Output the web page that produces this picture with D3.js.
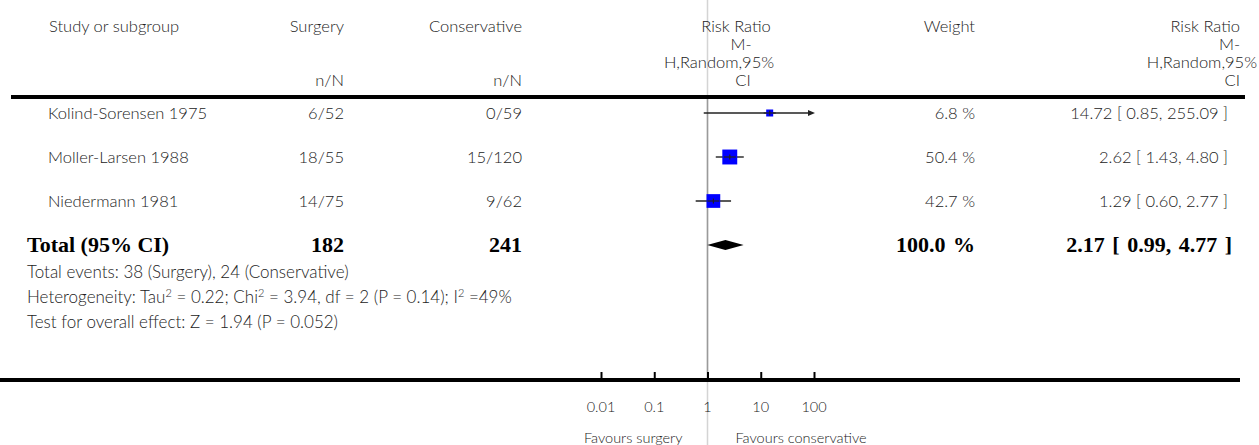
<!DOCTYPE html>
<html>
<head>
<meta charset="utf-8">
<script src="https://cdn.jsdelivr.net/npm/d3@7"></script>
<style>
  html, body { margin: 0; padding: 0; background: #fff; }
  svg { display: block; }
  .t { font-family: Lato, "Open Sans", sans-serif; font-weight: 300; font-size: 16.5px; fill: #222; }
  .b { font-family: "Liberation Serif", "Times New Roman", serif; font-weight: bold; font-size: 22px; fill: #000; }
  .bn { word-spacing: 2px; }
  .s { font-family: Lato, "Open Sans", sans-serif; font-weight: 300; font-size: 17px; fill: #222; }
  .ax { font-family: Lato, "Open Sans", sans-serif; font-weight: 300; font-size: 14.5px; fill: #222; }
</style>
</head>
<body>
<svg id="plot" width="1259" height="445"></svg>
<script>
// Trials in the meta-analysis
const studies = ["Kolind-Sorensen 1975", "Moller-Larsen 1988", "Niedermann 1981"];
const surgeryEvents = [6, 18, 14];
const surgeryTotals = [52, 55, 75];
const conservativeEvents = [0, 15, 9];
const conservativeTotals = [59, 120, 62];
const weights = [6.8, 50.4, 42.7];
const riskRatios = [14.72, 2.62, 1.29];
const ciLower = [0.85, 1.43, 0.60];
const ciUpper = [255.09, 4.80, 2.77];

// Pooled (random effects) result
const pooledRR = 2.17;
const pooledLower = 0.99;
const pooledUpper = 4.77;
const pooledWeight = 100.0;

// Axis
const tickValues = [0.01, 0.1, 1, 10, 100];
const tickLabels = ["0.01", "0.1", "1", "10", "100"];

// Footer text
const footerLines = [
  [{t: "Total events: 38 (Surgery), 24 (Conservative)"}],
  [{t: "Heterogeneity: Tau"}, {t: "2", sup: true}, {t: " = 0.22; Chi"}, {t: "2", sup: true},
   {t: " = 3.94, df = 2 (P = 0.14); I"}, {t: "2", sup: true}, {t: " =49%"}],
  [{t: "Test for overall effect: Z = 1.94 (P = 0.052)"}]
];

const svg = d3.select("#plot");

const x = d3.scaleLog().domain([0.01, 100]).range([601, 814]);
const rowY = d3.scalePoint().domain(d3.range(studies.length + 1)).range([113, 245]);
const boxSize = d3.scaleSqrt().domain([0, 100]).range([0, 21]);

const sumSurgeryTotal = d3.sum(surgeryTotals);
const sumConsTotal = d3.sum(conservativeTotals);

// Null line at RR = 1
const x1 = x(1);
svg.append("line").attr("x1", x1).attr("x2", x1).attr("y1", 0).attr("y2", 445)
  .attr("stroke", "#d4d4d4").attr("stroke-width", 1.5);
svg.append("line").attr("x1", x1).attr("x2", x1).attr("y1", 97).attr("y2", 380)
  .attr("stroke", "#9a9a9a").attr("stroke-width", 1.5);

// Column headers
const hdr = svg.append("g").attr("class", "t");
hdr.append("text").attr("x", 49).attr("y", 32).text("Study or subgroup");
hdr.append("text").attr("x", 344).attr("y", 32).attr("text-anchor", "end").text("Surgery");
hdr.append("text").attr("x", 344).attr("y", 86).attr("text-anchor", "end").text("n/N");
hdr.append("text").attr("x", 522).attr("y", 32).attr("text-anchor", "end").text("Conservative");
hdr.append("text").attr("x", 522).attr("y", 86).attr("text-anchor", "end").text("n/N");
hdr.append("text").attr("x", 975).attr("y", 32).attr("text-anchor", "end").text("Weight");

const midHeader = [["Risk Ratio", 736], ["M-", 741], ["H,Random,95%", 719], ["CI", 743]];
midHeader.forEach(([s, cx], i) => {
  hdr.append("text").attr("x", cx).attr("y", 32 + i * 18).attr("text-anchor", "middle").text(s);
});
const rightHeader = [["Risk Ratio", 1240], ["M-", 1240], ["H,Random,95%", 1257], ["CI", 1240]];
rightHeader.forEach(([s, rx], i) => {
  hdr.append("text").attr("x", rx).attr("y", 32 + i * 18).attr("text-anchor", "end").text(s);
});

// Rules
svg.append("line").attr("x1", 11).attr("x2", 1245).attr("y1", 97).attr("y2", 97)
  .attr("stroke", "#000").attr("stroke-width", 4);
svg.append("line").attr("x1", 0).attr("x2", 1240).attr("y1", 380).attr("y2", 380)
  .attr("stroke", "#000").attr("stroke-width", 4);

// Study rows
const fmt = d3.format(".2f");
const rows = svg.selectAll("g.row").data(studies).join("g").attr("class", "row");
rows.each(function(name, i) {
  const g = d3.select(this);
  const y = rowY(i);
  const ty = y + 6;
  g.append("text").attr("class", "t").attr("x", 48).attr("y", ty).text(name);
  g.append("text").attr("class", "t").attr("x", 344).attr("y", ty).attr("text-anchor", "end")
    .text(surgeryEvents[i] + "/" + surgeryTotals[i]);
  g.append("text").attr("class", "t").attr("x", 522).attr("y", ty).attr("text-anchor", "end")
    .text(conservativeEvents[i] + "/" + conservativeTotals[i]);
  g.append("text").attr("class", "t").attr("x", 975).attr("y", ty).attr("text-anchor", "end")
    .text(weights[i].toFixed(1) + " %");
  g.append("text").attr("class", "t").attr("x", 1228).attr("y", ty).attr("text-anchor", "end")
    .text(fmt(riskRatios[i]) + " [ " + fmt(ciLower[i]) + ", " + fmt(ciUpper[i]) + " ]");

  // confidence interval, clipped to the axis range with an arrow
  const [d0, d1] = x.domain();
  const lo = Math.max(ciLower[i], d0), hi = Math.min(ciUpper[i], d1);
  const clippedHi = ciUpper[i] > d1;
  const xHi = clippedHi ? x(hi) - 5 : x(hi);
  g.append("line").attr("x1", x(lo)).attr("x2", xHi).attr("y1", y).attr("y2", y)
    .attr("stroke", "#222").attr("stroke-width", 1.4);
  if (clippedHi) {
    g.append("path")
      .attr("d", `M${x(hi) + 1},${y} L${x(hi) - 6},${y - 3} L${x(hi) - 6},${y + 3} Z`)
      .attr("fill", "#222");
  }
  const sz = Math.max(7, boxSize(weights[i]));
  const cx = x(riskRatios[i]);
  g.append("rect").attr("x", cx - sz / 2).attr("y", y - sz / 2).attr("width", sz).attr("height", sz)
    .attr("fill", "#0000ff");
  g.append("line").attr("x1", cx - 6).attr("x2", cx + 6).attr("y1", y).attr("y2", y)
    .attr("stroke", "#222").attr("stroke-width", 1.2);
  g.append("line").attr("x1", cx).attr("x2", cx).attr("y1", y - 2.5).attr("y2", y + 2.5)
    .attr("stroke", "#222").attr("stroke-width", 1.2);
});

// Pooled row
const yT = rowY(studies.length);
const tyT = yT + 7;
svg.append("text").attr("class", "b").attr("x", 27).attr("y", tyT).text("Total (95% CI)");
svg.append("text").attr("class", "b").attr("x", 344).attr("y", tyT).attr("text-anchor", "end").text(sumSurgeryTotal);
svg.append("text").attr("class", "b").attr("x", 522).attr("y", tyT).attr("text-anchor", "end").text(sumConsTotal);
svg.append("text").attr("class", "b bn").attr("x", 975).attr("y", tyT).attr("text-anchor", "end")
  .text(pooledWeight.toFixed(1) + " %");
svg.append("text").attr("class", "b bn").attr("x", 1232).attr("y", tyT).attr("text-anchor", "end")
  .text(fmt(pooledRR) + " [ " + fmt(pooledLower) + ", " + fmt(pooledUpper) + " ]");
svg.append("path")
  .attr("d", `M${x(pooledLower)},${yT} L${x(pooledRR)},${yT - 5} L${x(pooledUpper)},${yT} L${x(pooledRR)},${yT + 5} Z`)
  .attr("fill", "#000");

// Footer statistics
footerLines.forEach((parts, i) => {
  const t = svg.append("text").attr("class", "s").attr("x", 27).attr("y", 278 + i * 25);
  parts.forEach((p, j) => {
    const sp = t.append("tspan").text(p.t);
    if (p.sup) sp.attr("font-size", 11).attr("dy", -6);
    else if (j > 0 && parts[j - 1].sup) sp.attr("dy", 6);
  });
});

// Log axis
const axis = d3.axisTop(x).tickValues(tickValues).tickSize(6).tickFormat("");
const axG = svg.append("g").attr("transform", "translate(0,378)").call(axis);
axG.select(".domain").remove();
axG.selectAll(".tick line").attr("stroke", "#000").attr("stroke-width", 2);
svg.selectAll("text.tl").data(tickValues).join("text").attr("class", "ax tl")
  .attr("x", d => x(d)).attr("y", 412).attr("text-anchor", "middle")
  .text((d, i) => tickLabels[i]);

svg.append("text").attr("class", "ax").attr("x", x1 - 25).attr("y", 443).attr("text-anchor", "end")
  .text("Favours surgery");
svg.append("text").attr("class", "ax").attr("x", x1 + 28).attr("y", 443)
  .text("Favours conservative");
</script>
</body>
</html>
